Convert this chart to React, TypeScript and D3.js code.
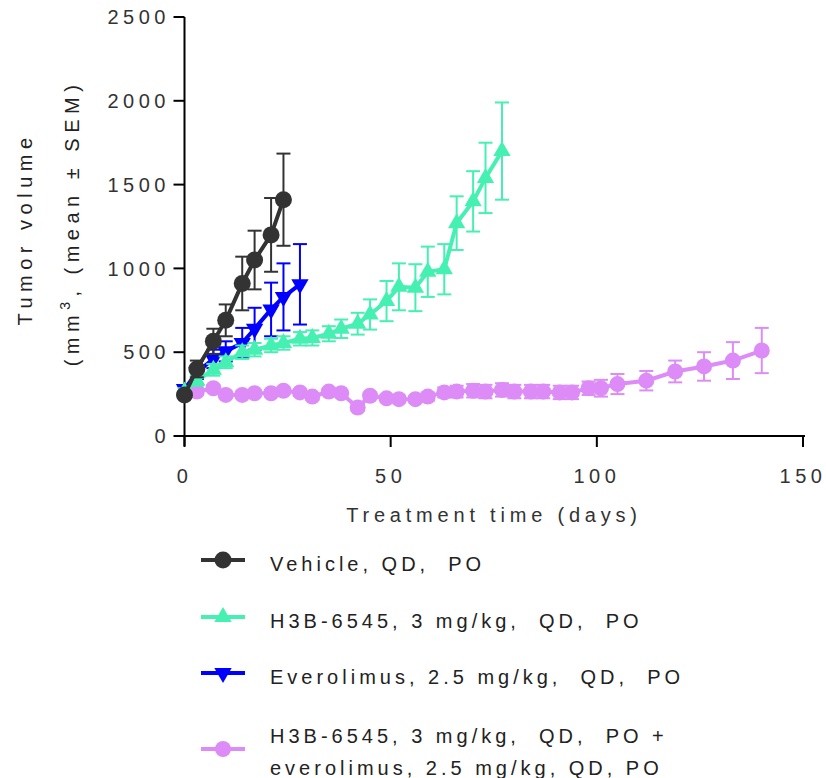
import React from "react";
import * as d3 from "d3";

const width = 826;
const height = 778;

// treatment days and tumor volumes (mean / SEM)
const vehicleDays = [0, 3, 7, 10, 14, 17, 21, 24];
const vehicleMean = [245, 400, 565, 690, 910, 1050, 1200, 1410];
const vehicleSem = [20, 50, 75, 95, 160, 175, 220, 275];

const everoDays = [0, 3, 7, 10, 14, 17, 21, 24, 28];
const everoMean = [280, 380, 460, 505, 555, 640, 755, 830, 905];
const everoSem = [20, 40, 55, 60, 90, 125, 160, 200, 240];

const h3bDays = [0, 3, 7, 10, 14, 17, 21, 24, 28, 31, 35, 38, 42, 45, 49, 52, 56, 59, 63, 66, 70, 73, 77];
const h3bMean = [265, 330, 395, 440, 500, 515, 540, 555, 580, 585, 610, 640, 670, 725, 805, 890, 885, 980, 995, 1270, 1400, 1540, 1700];
const h3bSem = [20, 30, 35, 35, 40, 40, 40, 40, 40, 45, 45, 55, 65, 90, 120, 140, 140, 150, 150, 160, 180, 210, 290];

const comboDays = [0, 3, 7, 10, 14, 17, 21, 24, 28, 31, 35, 38, 42, 45, 49, 52, 56, 59, 63, 66, 70, 73, 77, 80, 84, 87, 91, 94, 98, 101, 105, 112, 119, 126, 133, 140];
const comboMean = [250, 265, 285, 245, 245, 255, 255, 270, 260, 235, 265, 255, 170, 240, 225, 220, 220, 235, 260, 265, 270, 265, 275, 265, 265, 265, 260, 260, 285, 285, 310, 330, 385, 415, 450, 510];
const comboSem = [15, 20, 20, 20, 20, 20, 20, 20, 20, 20, 20, 20, 20, 20, 20, 20, 20, 25, 30, 35, 40, 40, 40, 40, 40, 40, 40, 40, 40, 50, 60, 58, 65, 85, 110, 135];

const yTicks = [0, 500, 1000, 1500, 2000, 2500];
const xTicks = [0, 50, 100, 150];

const legendLabels = [
  ["Vehicle, QD,  PO"],
  ["H3B-6545, 3 mg/kg,  QD,  PO"],
  ["Everolimus, 2.5 mg/kg,  QD,  PO"],
  ["H3B-6545, 3 mg/kg,  QD,  PO +", "everolimus, 2.5 mg/kg, QD, PO"],
];

const font = "'Liberation Sans', Arial, sans-serif";

const series = [
  { key: "combo", days: comboDays, mean: comboMean, sem: comboSem, color: "#DD8CF7", shape: "circle", r: 8 },
  { key: "evero", days: everoDays, mean: everoMean, sem: everoSem, color: "#0000FF", shape: "down", r: 9 },
  { key: "h3b", days: h3bDays, mean: h3bMean, sem: h3bSem, color: "#45F0B2", shape: "up", r: 9 },
  { key: "vehicle", days: vehicleDays, mean: vehicleMean, sem: vehicleSem, color: "#333333", shape: "circle", r: 8.5 },
];

// legend order differs from drawing order
const legendOrder = ["vehicle", "h3b", "evero", "combo"];
const legendY = [560, 617, 673, 749];

const x = d3.scaleLinear().domain([0, 150]).range([184.5, 803]);
const y = d3.scaleLinear().domain([0, 2500]).range([436, 17]);

const triUp = d3.symbol(d3.symbolTriangle, 130)();

function Marker({ shape, color, r, cx, cy }) {
  if (shape === "circle") return <circle cx={cx} cy={cy} r={r} fill={color} />;
  const rot = shape === "down" ? 180 : 0;
  return <path d={triUp} fill={color} transform={`translate(${cx},${cy}) rotate(${rot})`} />;
}

export default function App() {
  const line = d3.line<number>();
  return (
    <svg width={width} height={height} style={{ position: "absolute", left: 0, top: 0, background: "#fff" }} fontFamily={font}>
      {/* axes */}
      <g stroke="#000" strokeWidth={2}>
        <line x1={x(0)} x2={x(0)} y1={y(2500)} y2={446} />
        <line x1={x(0)} x2={805} y1={y(0)} y2={y(0)} />
        {yTicks.map(t => (
          <line key={t} x1={x(0) - 11} x2={x(0)} y1={y(t)} y2={y(t)} />
        ))}
        {xTicks.map(t => (
          <line key={t} x1={x(t)} x2={x(t)} y1={y(0)} y2={y(0) + 11} />
        ))}
      </g>
      <g fill="#333" fontSize={20} letterSpacing={4.5}>
        {yTicks.map(t => (
          <text key={t} x={170} y={y(t)} dy="0.36em" textAnchor="end">{t}</text>
        ))}
        {xTicks.map(t => (
          <text key={t} x={x(t)} y={483} textAnchor="middle">{t}</text>
        ))}
      </g>
      <text x={494} y={522} textAnchor="middle" fontSize={20} letterSpacing={4.8} fill="#333">Treatment time (days)</text>
      <g fill="#222" fontSize={20} letterSpacing={5.5}>
        <text transform="translate(32,229) rotate(-90)" textAnchor="middle">Tumor volume</text>
        <text transform="translate(79,223) rotate(-90)" textAnchor="middle">
          (mm<tspan dy="-9" fontSize={14}>3</tspan><tspan dy="9">, (mean ± SEM)</tspan>
        </text>
      </g>

      {/* series */}
      {series.map(s => (
        <g key={s.key}>
          <g stroke={s.color} strokeWidth={2}>
            {s.days.map((d, i) => {
              const cx = x(d);
              const hi = y(s.mean[i] + s.sem[i]);
              const lo = y(s.mean[i] - s.sem[i]);
              return (
                <g key={i}>
                  <line x1={cx} x2={cx} y1={hi} y2={lo} />
                  <line x1={cx - 7} x2={cx + 7} y1={hi} y2={hi} />
                  <line x1={cx - 7} x2={cx + 7} y1={lo} y2={lo} />
                </g>
              );
            })}
          </g>
          <path
            d={line(s.days.map((d, i) => [x(d), y(s.mean[i])]))}
            fill="none"
            stroke={s.color}
            strokeWidth={4}
          />
          {s.days.map((d, i) => (
            <Marker key={i} shape={s.shape} color={s.color} r={s.r} cx={x(d)} cy={y(s.mean[i])} />
          ))}
        </g>
      ))}

      {/* legend */}
      {legendOrder.map((k, i) => {
        const s = series.find(q => q.key === k);
        const ly = legendY[i];
        const lines = legendLabels[i];
        const baseY = lines.length > 1 ? ly - 6 : ly + 11;
        return (
          <g key={k}>
            <line x1={201} x2={245} y1={ly} y2={ly} stroke={s.color} strokeWidth={4} />
            <Marker shape={s.shape} color={s.color} r={s.r} cx={223} cy={ly} />
            <text x={270} y={baseY} fontSize={20} letterSpacing={4} fill="#222" style={{ whiteSpace: "pre" }}>
              {lines.map((t, j) => (
                <tspan key={j} x={270} dy={j === 0 ? 0 : 32}>{t}</tspan>
              ))}
            </text>
          </g>
        );
      })}
    </svg>
  );
}
